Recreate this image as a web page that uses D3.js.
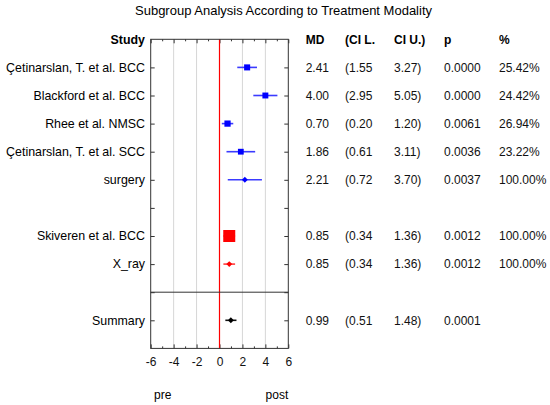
<!DOCTYPE html>
<html>
<head>
<meta charset="utf-8">
<script src="https://cdn.jsdelivr.net/npm/d3@7"></script>
<style>
  body { margin: 0; background: #fff; }
  text { font-family: Arial, "Liberation Sans", sans-serif; }
</style>
</head>
<body>
<div id="vis"></div>
<script>
// data
var studies = ["Çetinarslan, T. et al. BCC", "Blackford et al. BCC", "Rhee et al. NMSC",
    "Çetinarslan, T. et al. SCC", "surgery", "Skiveren et al. BCC", "X_ray", "Summary"];
var rows = [1, 2, 3, 4, 5, 7, 8, 10];
var md = [2.41, 4.00, 0.70, 1.86, 2.21, 0.85, 0.85, 0.99];
var ciLow = [1.55, 2.95, 0.20, 0.61, 0.72, 0.34, 0.34, 0.51];
var ciHigh = [3.27, 5.05, 1.20, 3.11, 3.70, 1.36, 1.36, 1.48];
var pValues = [0.0000, 0.0000, 0.0061, 0.0036, 0.0037, 0.0012, 0.0012, 0.0001];
var weights = [25.42, 24.42, 26.94, 23.22, 100.00, 100.00, 100.00, null];
var kinds = ["study", "study", "study", "study", "group", "study", "group", "summary"];
var groups = ["surgery", "surgery", "surgery", "surgery", "surgery", "xray", "xray", "summary"];

var xTicks = [-6, -4, -2, 0, 2, 4, 6];
var xMinor = [-5, -3, -1, 1, 3, 5];
var headers = ["MD", "(CI L.", "CI U.)", "p", "%"];

var markColor = { surgery: "#0000ff", xray: "#ff0000", summary: "#000000" };
var lineColor = { surgery: "#3b3bff", xray: "#ff3b3b", summary: "#111111" };

var width = 550, height = 405;

var svg = d3.select("#vis")
    .append("svg")
    .attr("width", width)
    .attr("height", height);

svg.append("text")
    .attr("x", 283.5)
    .attr("y", 10.5)
    .attr("text-anchor", "middle")
    .attr("dy", "0.35em")
    .style("font-size", "13px")
    .text("Subgroup Analysis According to Treatment Modality");

var x = d3.scaleLinear().domain([-6, 6]).range([150.7, 288.3]);
var y = d3.scaleLinear().domain([0, 11]).range([39.3, 348.4]);

var plotLeft = x.range()[0], plotRight = x.range()[1];
var plotTop = y.range()[0], plotBottom = y.range()[1];

// gridlines
svg.selectAll(".grid")
    .data(xTicks.filter(function (d) { return d !== 0 && d !== -6 && d !== 6; }))
    .enter()
    .append("line")
    .attr("class", "grid")
    .attr("x1", function (d) { return x(d); })
    .attr("x2", function (d) { return x(d); })
    .attr("y1", plotTop)
    .attr("y2", plotBottom)
    .attr("stroke", "#d6d6d6")
    .attr("stroke-width", 1);

// axes
var bottomAxis = svg.append("g")
    .attr("transform", "translate(0," + plotBottom + ")")
    .call(d3.axisBottom(x).tickValues(xTicks).tickSize(-4).tickPadding(9.5)
        .tickFormat(function (d) { return String(d); }));
bottomAxis.select(".domain").remove();
bottomAxis.selectAll("text")
    .style("font-size", "12px")
    .style("font-family", "Arial, 'Liberation Sans', sans-serif")
    .attr("fill", "#111");

var bottomMinor = svg.append("g")
    .attr("transform", "translate(0," + plotBottom + ")")
    .call(d3.axisBottom(x).tickValues(xMinor).tickSize(-2).tickFormat(""));
bottomMinor.select(".domain").remove();

var topAxis = svg.append("g")
    .attr("transform", "translate(0," + plotTop + ")")
    .call(d3.axisTop(x).tickValues(xTicks).tickSize(-4).tickFormat(""));
topAxis.select(".domain").remove();

var topMinor = svg.append("g")
    .attr("transform", "translate(0," + plotTop + ")")
    .call(d3.axisTop(x).tickValues(xMinor).tickSize(-2).tickFormat(""));
topMinor.select(".domain").remove();

var rowTicks = d3.range(1, 11);
var leftAxis = svg.append("g")
    .attr("transform", "translate(" + plotLeft + ",0)")
    .call(d3.axisLeft(y).tickValues(rowTicks).tickSize(-4).tickFormat(""));
leftAxis.select(".domain").remove();

var rightAxis = svg.append("g")
    .attr("transform", "translate(" + plotRight + ",0)")
    .call(d3.axisRight(y).tickValues(rowTicks).tickSize(-4).tickFormat(""));
rightAxis.select(".domain").remove();

svg.selectAll(".tick line").attr("stroke", "#333");

// zero line
svg.append("line")
    .attr("class", "zero")
    .attr("x1", x(0)).attr("x2", x(0))
    .attr("y1", plotTop).attr("y2", plotBottom)
    .attr("stroke", "#ff0000")
    .attr("stroke-width", 1.2);

// separator before summary
svg.append("line")
    .attr("x1", plotLeft).attr("x2", plotRight)
    .attr("y1", y(9)).attr("y2", y(9))
    .attr("stroke", "#333")
    .attr("stroke-width", 1);

// box
svg.append("rect")
    .attr("x", plotLeft).attr("y", plotTop)
    .attr("width", plotRight - plotLeft).attr("height", plotBottom - plotTop)
    .attr("fill", "none")
    .attr("stroke", "#333")
    .attr("stroke-width", 1);

// header and study labels
svg.append("text")
    .attr("x", 145)
    .attr("y", y(0))
    .attr("dy", "0.35em")
    .attr("text-anchor", "end")
    .style("font-size", "12.4px")
    .style("font-weight", "bold")
    .text("Study");

svg.selectAll(".label")
    .data(studies)
    .enter()
    .append("text")
    .attr("class", "label")
    .attr("x", 145)
    .attr("y", function (d, i) { return y(rows[i]); })
    .attr("dy", "0.35em")
    .attr("text-anchor", "end")
    .style("font-size", "12.4px")
    .text(function (d) { return d; });

// CI lines
svg.selectAll(".ci")
    .data(md)
    .enter()
    .append("line")
    .attr("class", "ci")
    .attr("x1", function (d, i) { return x(ciLow[i]); })
    .attr("x2", function (d, i) { return x(ciHigh[i]); })
    .attr("y1", function (d, i) { return y(rows[i]); })
    .attr("y2", function (d, i) { return y(rows[i]); })
    .attr("stroke", function (d, i) { return lineColor[groups[i]]; })
    .attr("stroke-width", 1.6);

// markers
var size = d3.scaleSqrt().domain([0, 100]).range([0, 12]);

svg.selectAll(".sq")
    .data(md.map(function (d, i) { return i; }).filter(function (i) { return kinds[i] === "study"; }))
    .enter()
    .append("rect")
    .attr("class", "sq")
    .attr("x", function (i) { return x(md[i]) - size(weights[i]) / 2; })
    .attr("y", function (i) { return y(rows[i]) - size(weights[i]) / 2; })
    .attr("width", function (i) { return size(weights[i]); })
    .attr("height", function (i) { return size(weights[i]); })
    .attr("fill", function (i) { return markColor[groups[i]]; });

var diamond = d3.symbol().type(d3.symbolDiamond2).size(22);
svg.selectAll(".dm")
    .data(md.map(function (d, i) { return i; }).filter(function (i) { return kinds[i] !== "study"; }))
    .enter()
    .append("path")
    .attr("class", "dm")
    .attr("d", diamond)
    .attr("transform", function (i) { return "translate(" + x(md[i]) + "," + y(rows[i]) + ")"; })
    .attr("fill", function (i) { return markColor[groups[i]]; });

// table
var colX = [305.7, 345, 394, 444, 499];
svg.selectAll(".head")
    .data(headers)
    .enter()
    .append("text")
    .attr("class", "head")
    .attr("x", function (d, i) { return colX[i]; })
    .attr("y", y(0))
    .attr("dy", "0.35em")
    .style("font-size", "12px")
    .style("font-weight", "bold")
    .text(function (d) { return d; });

var f2 = d3.format(".2f"), f4 = d3.format(".4f");
var cells = [];
md.forEach(function (d, i) {
    var vals = [f2(d), "(" + f2(ciLow[i]), f2(ciHigh[i]) + ")", f4(pValues[i]),
        weights[i] === null ? "" : f2(weights[i]) + "%"];
    vals.forEach(function (v, j) { cells.push({ row: rows[i], col: j, text: v }); });
});

svg.selectAll(".cell")
    .data(cells)
    .enter()
    .append("text")
    .attr("class", "cell")
    .attr("x", function (d) { return colX[d.col]; })
    .attr("y", function (d) { return y(d.row); })
    .attr("dy", "0.35em")
    .style("font-size", "12px")
    .attr("fill", "#111")
    .text(function (d) { return d.text; });

// direction labels
svg.append("text")
    .attr("x", 154)
    .attr("y", 394.5)
    .attr("dy", "0.35em")
    .style("font-size", "12px")
    .text("pre");

svg.append("text")
    .attr("x", plotRight)
    .attr("y", 394.5)
    .attr("dy", "0.35em")
    .attr("text-anchor", "end")
    .style("font-size", "12px")
    .text("post");
</script>
</body>
</html>
